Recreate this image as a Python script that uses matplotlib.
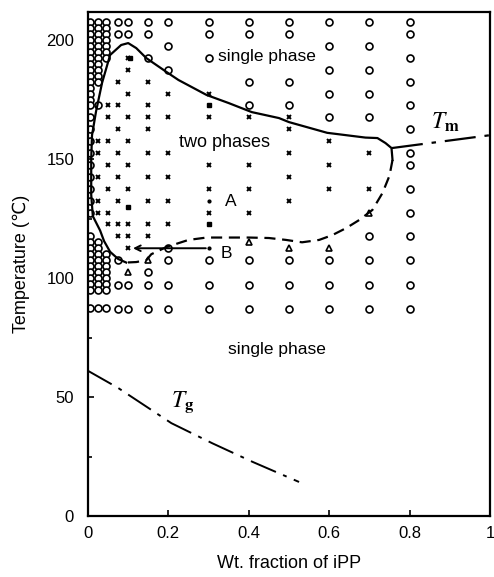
import matplotlib
matplotlib.use("Agg")
import matplotlib.pyplot as plt

plt.rcParams['font.family'] = ['Liberation Sans', 'DejaVu Sans']
plt.rcParams['mathtext.fontset'] = 'stix'

# single phase points (open circles), keyed by iPP weight fraction
one_phase = {
    0.075: [207.5, 202.5, 107.5, 97, 87],
    0.1: [207.5, 202.5, 97, 87],
    0.15: [207.5, 202.5, 192.5, 102.5, 97, 87],
    0.2: [207.5, 197.5, 187.5, 112.5, 107.5, 97, 87],
    0.3: [207.5, 202.5, 192.5, 107.5, 97, 87],
    0.4: [207.5, 202.5, 182.5, 172.5, 107.5, 97, 87],
    0.5: [207.5, 202.5, 182.5, 172.5, 107.5, 97, 87],
    0.6: [207.5, 197.5, 187.5, 177.5, 167.5, 107.5, 97, 87],
    0.7: [207.5, 197.5, 187.5, 177.5, 167.5, 117.5, 107.5, 97, 87],
    0.8: [207.5, 202.5, 192.5, 182.5, 172.5, 162.5, 152.5, 147.5,
          137.5, 127.5, 117.5, 107.5, 97, 87],
}

# closely spaced runs near the iPP-poor side
one_phase_dense = {
    0.005: [207.5, 205, 202.5, 200, 197.5, 195, 192.5, 190, 187.5, 185,
            182.5, 180, 177.5, 175, 172.5, 167.5, 162.5, 157.5, 152.5,
            147.5, 142.5, 137.5, 132.5, 127.5, 117.5, 115, 112.5, 110,
            107.5, 105, 102.5, 100, 97.5, 95, 87.5],
    0.025: [207.5, 205, 202.5, 200, 197.5, 195, 192.5, 190, 187.5, 185,
            182.5, 172.5, 115, 112.5, 110, 107.5, 105, 102.5, 100, 97.5,
            95, 87.5],
    0.045: [207.5, 205, 202.5, 200, 197.5, 195, 192.5, 110, 107.5, 105,
            102.5, 100, 97.5, 95, 87.5],
}

# two phase points (crosses)
two_phase = {
    0.025: [157.5, 152.5, 142.5, 132.5, 127.5],
    0.05: [172.5, 167.5, 157.5, 147.5, 137.5, 127.5, 122.5],
    0.075: [182.5, 172.5, 162.5, 152.5, 142.5, 132.5, 122.5, 117.5],
    0.1: [192.5, 187.5, 177.5, 167.5, 157.5, 147.5, 137.5, 122.5, 117.5, 112.5],
    0.15: [182.5, 172.5, 167.5, 162.5, 152.5, 142.5, 132.5, 122.5, 117.5],
    0.2: [177.5, 167.5, 152.5, 142.5, 132.5, 122.5],
    0.3: [177.5, 167.5, 147.5, 137.5, 127.5],
    0.4: [167.5, 147.5, 137.5, 127.5],
    0.5: [167.5, 162.5, 152.5, 142.5, 132.5],
    0.6: [157.5, 147.5, 137.5],
    0.7: [152.5, 137.5],
}

# cloud points (triangles)
tri_x = [0.1, 0.15, 0.4, 0.5, 0.6, 0.7]
tri_T = [102.5, 107.5, 115, 112.5, 112.5, 127.5]

# filled squares and dots
sq_x = [0.105, 0.1, 0.3, 0.3]
sq_T = [192.5, 130, 172.5, 122.5]
dot_x = [0.3, 0.3]
dot_T = [132.5, 112.5]

# phase boundary: solid upper branch, dashed lower branch
upper_x = [0.095, 0.075, 0.055, 0.04, 0.03, 0.012, 0.008, 0.008, 0.01,
           0.02, 0.035, 0.055, 0.0825, 0.1, 0.12, 0.145, 0.17, 0.195,
           0.225, 0.295, 0.35, 0.4075, 0.475, 0.5, 0.595, 0.69, 0.72,
           0.74, 0.755, 0.7575]
upper_T = [106.5, 108, 111, 115.5, 120, 126, 135, 150, 160, 170, 182,
           193.7, 197.9, 198.7, 196.6, 192.4, 189.5, 186.6, 183.2, 176.9,
           173.5, 169.7, 167.2, 165.5, 161, 159, 158.8, 156.7, 154.6, 149.6]
lower_x = [0.7575, 0.75, 0.7325, 0.7075, 0.675, 0.6425, 0.6075, 0.575,
           0.5325, 0.4925, 0.45, 0.4, 0.295, 0.25, 0.195, 0.1575, 0.145,
           0.12, 0.095]
lower_T = [149.6, 143, 135.7, 128.6, 124.4, 121, 118, 116, 115, 116,
           116.8, 117, 117, 116, 113, 110, 107.5, 106.7, 106.5]

# melting and glass transition lines
tm_x = [0.756, 1.0]
tm_T = [154.6, 160]
tg_x = [0.0, 0.075, 0.2075, 0.31, 0.41, 0.525]
tg_T = [61, 53.8, 39, 30.5, 22.7, 14.3]

fig = plt.figure(figsize=(4.94, 5.77), dpi=100)
ax = fig.add_axes([88 / 494, 1 - 516 / 577, 402 / 494, 504 / 577])

circ = dict(marker='o', ms=5, mfc='white', mec='black', mew=1.2, ls='none')
for x, temps in one_phase.items():
    ax.plot([x] * len(temps), temps, **circ)
for x, temps in one_phase_dense.items():
    ax.plot([x] * len(temps), temps, **circ)
for x, temps in two_phase.items():
    ax.plot([x] * len(temps), temps, marker='x', ms=3.5, mec='black',
            mew=1.4, ls='none')
ax.plot(tri_x, tri_T, marker='^', ms=4.5, mfc='white', mec='black',
        mew=1.2, ls='none')
ax.plot(sq_x, sq_T, marker='s', ms=3, color='black', ls='none')
ax.plot(dot_x, dot_T, marker='o', ms=2, color='black', ls='none')

ax.plot(upper_x, upper_T, color='black', lw=1.6)
ax.plot(lower_x, lower_T, color='black', lw=1.6, dashes=(5, 3))
ax.plot(tm_x, tm_T, color='black', lw=1.6, dashes=(14, 4, 2, 4))
ax.plot(tg_x, tg_T, color='black', lw=1.4, dashes=(14, 4, 2, 4))

# arrow from A region down to B
ax.annotate('', xy=(0.105, 112.5), xytext=(0.3, 112.5),
            arrowprops=dict(arrowstyle='->', color='black', lw=1.4))

ax.text(0.445, 193, 'single phase', fontsize=12.5, ha='center', va='center')
ax.text(0.34, 157, 'two phases', fontsize=13, ha='center', va='center')
ax.text(0.47, 70, 'single phase', fontsize=12.5, ha='center', va='center')
ax.text(0.355, 132, 'A', fontsize=12.5, ha='center', va='center')
ax.text(0.345, 110.5, 'B', fontsize=12.5, ha='center', va='center')
ax.text(0.89, 165.5, r'$T_{\mathbf{m}}$', fontsize=17, ha='center', va='center')
ax.text(0.235, 48, r'$T_{\mathbf{g}}$', fontsize=17, ha='center', va='center')

ax.set_xlim(0, 1)
ax.set_ylim(0, 504 / 2.38)
ax.set_xticks([0, 0.2, 0.4, 0.6, 0.8, 1])
ax.set_xticklabels(['0', '0.2', '0.4', '0.6', '0.8', '1'])
ax.set_yticks([0, 50, 100, 150, 200])
ax.set_yticks([25, 75, 125, 175], minor=True)
ax.tick_params(direction='in', length=4, width=1.2, labelsize=12)
ax.tick_params(axis='x', pad=7)
ax.tick_params(axis='y', pad=10)
ax.tick_params(which='minor', direction='in', length=3, width=1.2)
for s in ax.spines.values():
    s.set_linewidth(1.6)

ax.set_xlabel('Wt. fraction of iPP', fontsize=13, labelpad=10)
ax.set_ylabel('Temperature (℃)', fontsize=13, labelpad=12)

fig.savefig('out.png', dpi=100)
